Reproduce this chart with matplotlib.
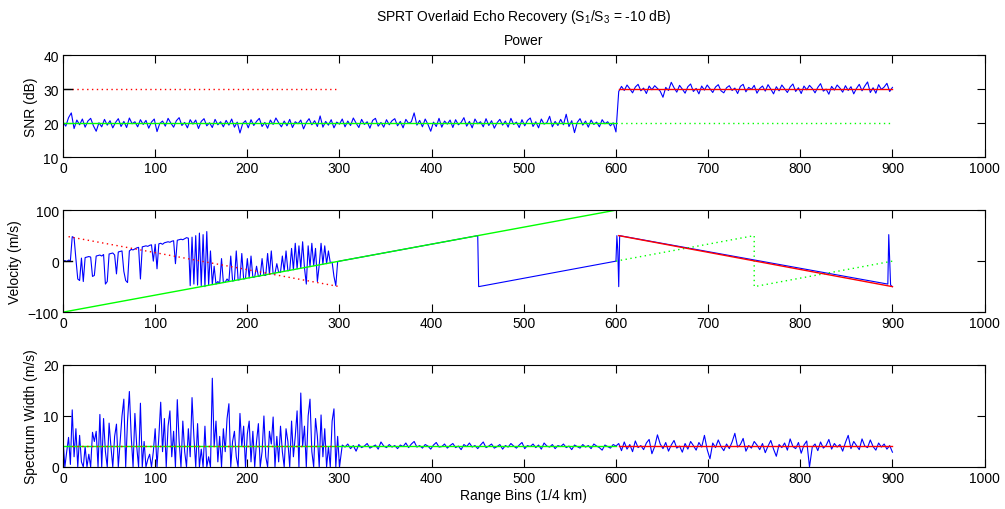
import matplotlib
matplotlib.use('Agg')
import matplotlib.pyplot as plt
import numpy as np

plt.rcParams['font.family'] = ['Liberation Sans', 'DejaVu Sans']
plt.rcParams['font.size'] = 10
plt.rcParams['mathtext.fontset'] = 'custom'
plt.rcParams['mathtext.rm'] = 'Liberation Sans'
plt.rcParams['mathtext.it'] = 'Liberation Sans:italic'

# range bins
snr_bins = np.arange(0, 901, 3)
vel_bins = np.arange(0, 301, 2)
spec_bins = np.concatenate([np.arange(0, 301, 2), np.arange(303, 901, 3)])

# SNR estimate (dB), bins 0..600 then 603..900
snr_near = [
    20.3, 19.1, 21.6, 23.0, 18.4, 20.9, 19.5, 21.2, 18.8, 20.6, 21.4, 19.2, 17.6, 20.1, 18.9, 21.1, 19.4, 20.7, 18.6, 20.2,
    21.3, 19.0, 20.5, 18.7, 21.5, 19.8, 20.4, 18.9, 21.0, 19.6, 20.8, 18.5, 20.3, 21.2, 17.5, 19.9, 20.6, 19.1, 21.4, 20.0,
    18.8, 20.7, 21.6, 19.3, 20.2, 18.6, 21.0, 19.7, 20.9, 18.4, 20.5, 21.3, 19.2, 20.1, 18.7, 21.1, 19.5, 20.4, 18.9, 20.8,
    19.4, 21.2, 18.8, 20.3, 17.1, 19.9, 20.7, 18.6, 21.0, 19.3, 20.5, 21.4, 19.0, 20.2, 18.5, 20.9, 19.6, 21.5, 20.1, 18.9,
    20.6, 19.2, 21.1, 18.7, 20.4, 19.8, 20.9, 18.3, 20.2, 21.3, 19.5, 20.7, 19.0, 22.1, 18.8, 20.5, 19.4, 21.0, 18.6, 20.3,
    19.7, 21.2, 18.9, 20.6, 19.3, 21.5, 20.0, 18.7, 21.1, 19.6, 20.4, 18.5, 20.8, 21.4, 19.1, 20.2, 18.8, 21.0, 19.5, 20.7,
    21.3, 19.2, 20.5, 18.6, 21.1, 19.9, 20.4, 23.0, 19.4, 20.8, 18.9, 21.2, 19.6, 17.6, 20.3, 19.0, 21.4, 18.8, 20.6, 19.7,
    20.9, 18.7, 21.0, 19.5, 20.2, 21.6, 19.1, 20.5, 18.6, 21.2, 19.8, 20.4, 18.9, 21.3, 19.3, 20.7, 18.5, 20.1, 21.1, 19.4,
    20.6, 18.8, 21.4, 19.6, 20.3, 18.7, 21.0, 19.2, 20.8, 21.5, 19.0, 20.4, 18.6, 21.2, 19.7, 20.1, 22.0, 18.9, 20.5, 19.3,
    21.1, 19.5, 22.6, 19.0, 20.7, 17.2, 20.2, 21.3, 19.4, 20.6, 18.8, 20.9, 19.6, 20.3, 18.9, 21.0, 19.8, 20.4, 19.2, 20.1,
    17.4,
]
snr_far = [
    29.3, 30.8, 29.6, 31.2, 30.1, 28.9, 30.6, 31.4, 29.5, 30.3, 28.7, 30.9, 29.8, 31.0, 30.2, 29.4, 27.6, 30.5, 29.6, 32.0,
    30.4, 29.1, 31.1, 30.0, 28.8, 30.7, 31.5, 29.3, 30.2, 28.6, 30.9, 29.7, 31.2, 30.1, 29.0, 30.6, 31.3, 29.5, 28.9, 30.4,
    31.0, 29.6, 30.3, 28.7, 30.8, 31.4, 29.2, 30.5, 29.9, 31.1, 28.8, 30.2, 30.9, 29.4, 31.3, 30.0, 28.6, 30.7, 29.5, 31.2,
    30.1, 29.0, 30.6, 31.5, 29.3, 30.4, 28.7, 30.9, 29.8, 31.1, 30.2, 28.9, 30.5, 31.6, 29.4, 30.0, 28.5, 30.8, 29.7, 31.2,
    30.3, 29.1, 31.0, 29.6, 30.7, 28.6, 30.2, 31.4, 29.5, 30.9, 32.1, 29.0, 30.4, 28.8, 31.3, 29.9, 30.6, 31.7, 29.3, 30.5,
]

# velocity estimate (m/s), bins 0..300
vel_near = [
    0, 1, -1, 2, 1, 48, 46, 4, -35, -38, 6, -40, 7, 8, 9, 8, -30, -28, 10, 11,
    12, 10, 13, -45, -40, 14, 15, 16, 12, -25, 18, 19, 20, -20, -38, -42, 20, 23, 22, 24,
    26, 27, -35, 28, 29, 30, 29, 31, 32, 0, 33, -15, 34, 35, 33, 36, 37, 38, 37, 39,
    40, -5, 41, 42, 43, 42, 44, 46, 45, -48, 47, -45, 50, -47, 55, -48, 52, -50, 58, -47,
    20, -46, -10, -45, -40, -44, 5, -42, -41, -35, -40, 10, -39, -38, 20, -37, -36, 15, -35, -34,
    5, -33, 10, -32, -31, -10, -30, -29, 5, -28, -28, 15, -26, 20, -25, -24, -5, -22, -22, 10,
    -20, 20, -19, -18, 25, -17, 35, -15, 30, -14, 38, -13, -45, 30, -11, 35, -9, 25, -40, -8,
    35, -6, 30, -5, 20, -3, -2, -30, -48, -1, 0,
]
# velocity estimate beyond bin 300 (follows the folded truth lines)
vel_far_bins = [450, 451, 600, 601, 602, 603, 604, 895, 896, 897, 898, 900]
vel_far = [50, -50, 0, 50, 20, -50, 50, -45, 52, 0, -47, -50]

# spectrum width estimate (m/s)
spec_near = [
    5.5, 0, 3, 5.8, 0.5, 11.2, 2, 7.5, 0, 6.2, 1, 0, 4, 0, 2.5, 0, 6.8, 5, 7, 0,
    10.3, 0, 9.5, 3, 0, 8.6, 4, 0, 6, 8.4, 0, 5, 10, 13.3, 0, 9, 14.8, 6, 0, 10.5,
    4, 0, 12.5, 0, 5, 0, 1.5, 2.5, 0, 3, 7.5, 0, 6, 12.7, 3, 9.5, 0, 8, 11, 2,
    7, 0, 13.2, 5, 0, 9, 3, 0, 7.5, 2, 13.6, 6, 0, 8.5, 0, 3.5, 0, 8, 0, 2,
    0, 17.4, 4, 9, 1, 6, 0, 7.5, 3, 9.5, 12.4, 0, 5, 7, 2, 0, 10.5, 4, 8, 0,
    6.5, 9, 1, 7, 0, 5, 8.5, 0, 3, 10, 2, 0, 7, 4.5, 9.8, 0, 6, 1, 8, 3,
    0, 7.5, 5, 0, 9, 2, 6, 11, 0, 14.5, 4, 8, 0, 10, 13.3, 3, 0, 9.5, 6, 0,
    10.2, 2, 7.5, 0, 4, 0, 9, 11.4, 0, 6, 0,
]
spec_far = [
    4.3, 3.9, 4.5, 3.6, 4.2, 3.1, 4.4, 3.8, 4.1, 4.6, 3.7, 4.0, 4.3, 3.5, 4.9, 4.1, 3.8, 4.4, 3.9, 4.2,
    3.6, 4.3, 4.0, 4.7, 3.8, 4.5, 5.0, 3.9, 4.2, 3.7, 4.4, 4.1, 3.5, 4.3, 4.8, 3.9, 4.0, 4.5, 3.7, 4.2,
    4.6, 3.8, 4.1, 3.4, 4.4, 4.0, 4.7, 3.9, 4.2, 3.6, 4.3, 4.9, 3.8, 4.1, 4.5, 3.7, 4.0, 4.4, 3.5, 4.2,
    3.9, 4.6, 4.1, 3.7, 4.3, 4.8, 3.6, 4.2, 4.0, 4.5, 3.8, 4.3, 3.5, 4.7, 4.1, 3.9, 4.4, 3.6, 4.2, 4.0,
    4.5, 3.8, 4.1, 3.4, 4.3, 4.0, 3.7, 4.4, 3.9, 4.2, 3.6, 4.5, 4.1, 3.8, 3.3, 4.3, 4.0, 3.7, 4.4, 4.1,
    4.6, 3.2, 4.9, 3.5, 4.4, 3.0, 5.1, 3.8, 4.2, 3.4, 4.7, 5.4, 2.6, 4.0, 6.3, 4.5, 3.6, 4.8, 3.1, 4.3,
    5.2, 3.7, 4.1, 2.9, 4.6, 3.5, 5.0, 4.2, 3.3, 4.8, 3.9, 6.2, 3.4, 1.6, 4.7, 3.8, 5.3, 4.0, 3.2, 4.5,
    3.6, 4.9, 6.6, 3.9, 4.4, 5.6, 3.1, 4.2, 3.7, 5.0, 4.3, 3.4, 4.6, 2.8, 4.1, 5.2, 3.5, 2.1, 4.4, 3.8,
    4.7, 3.3, 5.5, 4.0, 3.6, 4.8, 2.7, 4.3, 5.1, 0.0, 3.9, 4.5, 3.2, 4.9, 3.7, 4.2, 5.4, 3.5, 4.6, 3.9,
    4.4, 3.1, 4.8, 6.2, 3.6, 5.0, 4.2, 3.4, 5.5, 4.1, 3.8, 5.3, 4.0, 3.3, 4.7, 3.9, 4.5, 3.5, 4.2, 2.9,
]

# true echo parameters (segment endpoints)
s1_bins = [0, 600]
s1_bins_far = [600, 900]
s1_power = [20, 20]
s3_bins = [10, 300]
s3_bins_far = [603, 900]
s3_power = [30, 30]
s1_vel = [-100, 100]
s1_vel_far_bins = [600, 750, 750, 900]
s1_vel_far = [0, 50, -50, 0]
s3_vel_bins = [6, 300]
s3_vel = [48, -50]
s3_vel_far = [50, -50]
s1_width = [4.2, 4.2]
s3_width = [4.2, 4.2]
init_bins = [0, 10]

BLUE = '#0000ff'
GREEN = '#00ff00'
RED = '#ff0000'
lw = 0.8
dots = (0, (1, 2.5))

fig = plt.figure(figsize=(10.05, 5.10), dpi=100)
ax1 = fig.add_axes([0.0627, 0.690, 0.917, 0.200])
ax2 = fig.add_axes([0.0627, 0.386, 0.917, 0.200])
ax3 = fig.add_axes([0.0627, 0.0824, 0.917, 0.200])

# power
ax1.plot(snr_bins, snr_near + snr_far, color=BLUE, lw=lw)
ax1.plot(s1_bins, s1_power, color=GREEN, lw=1.0)
ax1.plot(s1_bins_far, s1_power, color=GREEN, lw=1.0, ls=dots)
ax1.plot(s3_bins, s3_power, color=RED, lw=1.0, ls=dots)
ax1.plot(s3_bins_far, s3_power, color=RED, lw=1.0)
ax1.plot(init_bins, s3_power, color='black', lw=1.0)
ax1.set_ylim(10, 40)
ax1.set_yticks([10, 20, 30, 40])
ax1.set_ylabel('SNR (dB)')
ax1.set_title('Power', fontsize=10, pad=8)

# velocity
ax2.plot(np.concatenate([vel_bins, vel_far_bins]), vel_near + vel_far, color=BLUE, lw=lw)
ax2.plot(s1_bins, s1_vel, color=GREEN, lw=1.0)
ax2.plot(s1_vel_far_bins, s1_vel_far, color=GREEN, lw=1.0, ls=dots)
ax2.plot(s3_vel_bins, s3_vel, color=RED, lw=1.0, ls=dots)
ax2.plot(s3_bins_far, s3_vel_far, color=RED, lw=1.0)
ax2.plot(init_bins, [0, 0], color='black', lw=1.0)
ax2.set_ylim(-100, 100)
ax2.set_yticks([-100, 0, 100])
ax2.set_ylabel('Velocity (m/s)')

# spectrum width
ax3.plot(spec_bins, spec_near + spec_far, color=BLUE, lw=lw)
ax3.plot(s1_bins, s1_width, color=GREEN, lw=1.0)
ax3.plot(s3_bins, s3_width, color=RED, lw=1.0, ls=dots)
ax3.plot(s3_bins_far, s3_width, color=RED, lw=1.0)
ax3.set_ylim(0, 20)
ax3.set_yticks([0, 10, 20])
ax3.set_ylabel('Spectrum Width (m/s)')
ax3.set_xlabel('Range Bins (1/4 km)', labelpad=2)

for ax in (ax1, ax2, ax3):
    ax.set_xlim(0, 1000)
    ax.set_xticks(np.arange(0, 1001, 100))
    ax.tick_params(direction='in', top=True, right=True, length=6, width=0.8, pad=3)
    for sp in ax.spines.values():
        sp.set_linewidth(0.8)

fig.text(0.521, 1 - 17 / 510, 'SPRT Overlaid Echo Recovery (S$_1$/S$_3$ = -10 dB)',
         ha='center', va='center')

fig.savefig('out.png', dpi=100)
